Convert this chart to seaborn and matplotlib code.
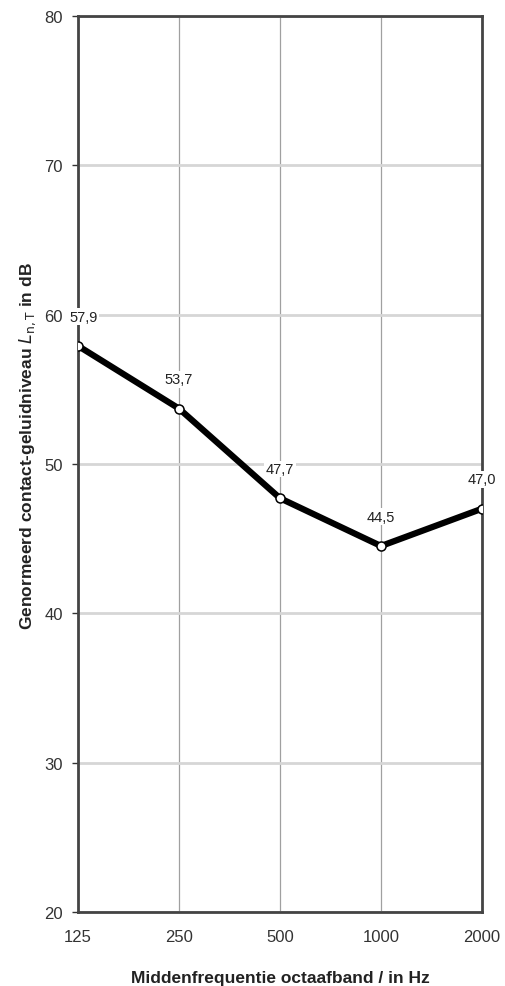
import matplotlib
matplotlib.use("Agg")
import matplotlib.pyplot as plt
import seaborn as sns
import pandas as pd

# Octave band centre frequencies and measured levels
frequencies = ["125", "250", "500", "1000", "2000"]
levels = [57.9, 53.7, 47.7, 44.5, 47.0]
y_ticks = [20, 30, 40, 50, 60, 70, 80]

df = pd.DataFrame({"pos": range(len(frequencies)), "freq": frequencies, "level": levels})

sns.set_theme(style="white")
plt.rcParams["font.family"] = ["Liberation Sans", "DejaVu Sans"]

fig = plt.figure(figsize=(5.05, 9.87), dpi=100)
ax = fig.add_axes([0.1545, 0.075, 0.80, 0.908])

sns.lineplot(data=df, x="pos", y="level", ax=ax, color="black", linewidth=4.5,
             marker="o", markersize=6.5, markerfacecolor="white",
             markeredgecolor="black", markeredgewidth=1.1, zorder=3)

for x, v in zip(df["pos"], df["level"]):
    # first label sits against the axis, nudge it clear of the tick text
    dx = 4 if x == 0 else 0
    ax.annotate(f"{v:.1f}".replace(".", ","), (x, v), xytext=(dx, 16),
                textcoords="offset points", ha="center", va="bottom",
                fontsize=10.5, color="#222222", zorder=5,
                bbox=dict(boxstyle="square,pad=0.1", facecolor="white",
                          edgecolor="none"))

ax.set_xlim(0, len(frequencies) - 1)
ax.set_ylim(20, 80)
ax.set_xticks(range(len(frequencies)))
ax.set_xticklabels(frequencies)
ax.set_yticks(y_ticks)

ax.grid(axis="y", color="#d6d6d6", linewidth=2.0, zorder=0)
ax.grid(axis="x", color="#a0a0a0", linewidth=0.9, zorder=0)
ax.set_axisbelow(True)

for s in ax.spines.values():
    s.set_color("#444444")
    s.set_linewidth(2.0)

ax.tick_params(axis="both", labelsize=12, colors="#333333", length=4,
               width=1.0, direction="out", bottom=True, left=True, pad=7)
ax.tick_params(axis="x", length=0, pad=12)

ax.set_xlabel("Middenfrequentie octaafband / in Hz", fontsize=12.5,
              fontweight="bold", color="#222222", labelpad=19)
ax.set_ylabel(r"Genormeerd contact-geluidniveau $L_{\mathrm{n,T}}$ in dB",
              fontsize=12.5, fontweight="bold", color="#222222")
ax.yaxis.set_label_coords(-0.100, 0.521)

fig.savefig("out.png", dpi=100)
